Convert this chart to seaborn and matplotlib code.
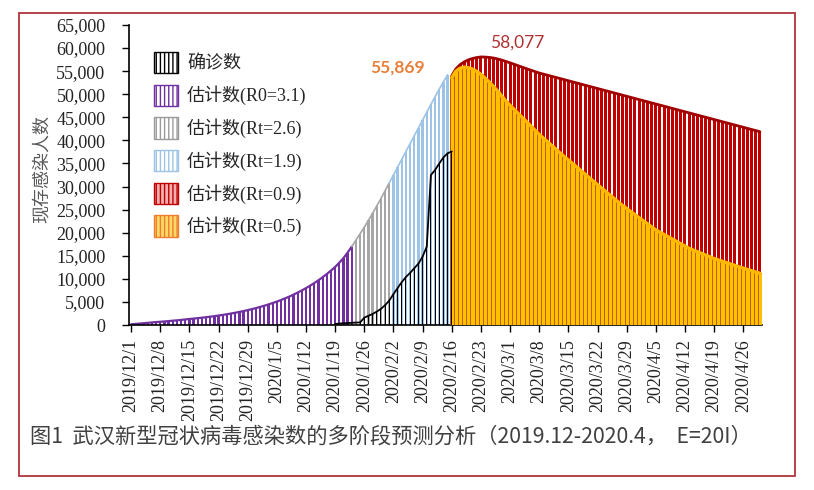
import matplotlib
matplotlib.use("Agg")
import matplotlib.pyplot as plt
import numpy as np
import pandas as pd
import seaborn as sns
from matplotlib.patches import Patch, Rectangle

# one bar per day, 2019/12/1 .. 2020/4/30
dates = pd.date_range("2019-12-01", "2020-04-30", freq="D")
date_labels = ["{}/{}/{}".format(d.year, d.month, d.day) for d in dates]

# estimate with R0=3.1, 2019/12/1 .. 2020/1/23
est_r0 = [150, 230, 310, 390, 470, 550, 630, 700, 770, 850,
          930, 1010, 1100, 1200, 1300, 1390, 1480, 1580, 1690, 1800,
          1920, 2050, 2180, 2330, 2490, 2650, 2830, 3020, 3220, 3440,
          3670, 3920, 4180, 4460, 4760, 5070, 5410, 5780, 6160, 6580,
          7020, 7490, 7990, 8520, 9090, 9700, 10350, 11050, 11790, 12580,
          13500, 14500, 15700, 17000]
# estimate with Rt=2.6, 1/24 .. 2/1
est_rt26 = [18400, 19800, 21200, 22700, 24200, 25800, 27400, 29100, 30800]
# estimate with Rt=1.9, 2/2 .. 2/15
est_rt19 = [32500, 34200, 35900, 37600, 39300, 41000, 42700, 44400, 46100,
            47800, 49500, 51100, 52700, 54200]
# estimate with Rt=0.9, 2/16 .. 4/30
est_rt09 = [54000, 55500, 56400, 57000, 57450, 57750, 57950, 58077, 58050, 57980,
            57850, 57650, 57400, 57100, 56800, 56480, 56160, 55840, 55520, 55210,
            54900, 54600, 54360, 54120, 53880, 53640, 53400, 53160, 52920, 52680,
            52440, 52200, 51960, 51720, 51480, 51240, 51000, 50760, 50520, 50280,
            50040, 49800, 49560, 49320, 49080, 48840, 48600, 48360, 48120, 47880,
            47640, 47400, 47160, 46920, 46680, 46440, 46200, 45960, 45720, 45480,
            45240, 45000, 44760, 44520, 44280, 44040, 43800, 43560, 43320, 43080,
            42840, 42600, 42360, 42120, 41880]
# estimate with Rt=0.5, 2/16 .. 4/30
est_rt05 = [53600, 55000, 55650, 55869, 55750, 55450, 54950, 54300, 53500, 52650,
            51700, 50700, 49600, 48500, 47600, 46700, 45800, 44900, 44000, 43100,
            42200, 41300, 40500, 39700, 38900, 38100, 37300, 36500, 35750, 35000,
            34230, 33460, 32700, 31930, 31160, 30400, 29650, 28900, 28150, 27400,
            26650, 25900, 25230, 24570, 23900, 23240, 22580, 21920, 21260, 20600,
            20100, 19600, 19100, 18600, 18100, 17600, 17100, 16600, 16230, 15870,
            15500, 15130, 14770, 14400, 14100, 13800, 13500, 13200, 12900, 12600,
            12320, 12040, 11760, 11480, 11200]
# confirmed, 1/19 .. 2/16
confirmed = [250, 300, 380, 420, 480, 520, 560, 1600, 2000, 2400,
             2900, 3500, 4300, 5300, 6700, 8000, 9300, 10400, 11300, 12300,
             13300, 14800, 17000, 32500, 33600, 35000, 36300, 37200, 37600]

start = {"r0": 0, "rt26": 54, "rt19": 63, "rt09": 77, "rt05": 77, "conf": 49}

sns.set_theme(style="white")
plt.rcParams["font.family"] = ["Liberation Serif", "Noto Sans CJK SC"]
plt.rcParams["hatch.linewidth"] = 1.0

W, H = 814, 490
fig = plt.figure(figsize=(W / 100, H / 100), dpi=100)
ax = fig.add_axes([129 / W, 1 - 325 / H, (762 - 129) / W, 300 / H])

day = np.arange(len(dates))


def draw(values, s, color, width, line_color, lw, z, edge=None, edge_lw=0, prev=None):
    x = day[s:s + len(values)]
    ax.bar(x, values, width=width, color=color, edgecolor=edge if edge else "none",
           linewidth=edge_lw, zorder=z)
    # outline joins on to the previous segment
    lx, ly = list(x), list(values)
    if prev is not None:
        lx = [s - 1] + lx
        ly = [prev[-1]] + ly
    sns.lineplot(x=lx, y=ly, color=line_color, lw=lw, ax=ax, zorder=z + 0.5)


draw(est_r0, start["r0"], "#7030a0", 0.55, "#7030a0", 1.6, 2)
draw(est_rt26, start["rt26"], "#a6a6a6", 0.55, "#a6a6a6", 1.2, 2, prev=est_r0)
draw(est_rt19, start["rt19"], "#9dc3e6", 0.55, "#9dc3e6", 1.2, 2, prev=est_rt26)
draw(est_rt09, start["rt09"], "#c00000", 0.72, "#a00000", 2.0, 3)
draw(est_rt05, start["rt05"], "#ffc000", 1.0, "#ffb800", 2.4, 5, edge="#b8560f", edge_lw=0.6)
draw(confirmed, start["conf"], "#000000", 0.22, "#000000", 1.3, 7)

# peak labels
i05 = int(np.argmax(est_rt05))
ax.annotate("{:,}".format(est_rt05[i05]), xy=(start["rt05"] + i05, est_rt05[i05]),
            xytext=(-48, 0), textcoords="offset points", ha="center", va="center",
            fontsize=12.5, fontweight="bold", color="#e97f3a", family="Lato")
i09 = int(np.argmax(est_rt09))
ax.annotate("{:,}".format(est_rt09[i09]), xy=(start["rt09"] + i09, est_rt09[i09]),
            xytext=(26, 10), textcoords="offset points", ha="center", va="center",
            fontsize=12.5, color="#b03030", family="Lato")

ax.set_xlim(-0.5, len(dates) - 0.5)
ax.set_ylim(0, 65000)
ticks = day[::7]
ax.set_xticks(ticks)
ax.set_xticklabels([date_labels[i] for i in ticks], rotation=90, fontsize=13,
                   family="Liberation Serif", color="#222222")
yt = np.arange(0, 65001, 5000)
ax.set_yticks(yt)
ax.set_yticklabels(["{:,}".format(v) for v in yt], fontsize=13,
                   family="Liberation Serif", color="#222222")
ax.tick_params(axis="y", direction="out", length=5, width=1, pad=12, left=True, color="black")
ax.tick_params(axis="x", direction="out", length=5, width=1, pad=5, bottom=True, color="black")
ax.set_ylabel("现存感染人数", family="Noto Sans CJK SC", fontsize=13, color="#595959")
ax.yaxis.set_label_coords(-0.124, 0.52)
sns.despine(ax=ax)
for sp in ("left", "bottom"):
    ax.spines[sp].set_color("black")
    ax.spines[sp].set_linewidth(1.2)

handles = [
    Patch(facecolor="white", edgecolor="black", hatch="||||", label="确诊数"),
    Patch(facecolor="white", edgecolor="#7030a0", hatch="||||", label="估计数(R0=3.1)"),
    Patch(facecolor="white", edgecolor="#9a9a9a", hatch="||||", label="估计数(Rt=2.6)"),
    Patch(facecolor="white", edgecolor="#9dc3e6", hatch="||||", label="估计数(Rt=1.9)"),
    Patch(facecolor="#f4b0b0", edgecolor="#c00000", hatch="||||", label="估计数(Rt=0.9)"),
    Patch(facecolor="#ffd966", edgecolor="#ed7d31", hatch="||||", label="估计数(Rt=0.5)"),
]
fig.legend(handles=handles, loc="upper left", bbox_to_anchor=(154 / W, 1 - 52 / H),
           frameon=False, borderpad=0, borderaxespad=0, handlelength=1.33,
           handleheight=1.44, labelspacing=0.63, handletextpad=0.5,
           prop={"family": ["Liberation Serif", "Noto Sans CJK SC"], "size": 13})

fig.text(30 / W, 1 - 437 / H, "图1  武汉新型冠状病毒感染数的多阶段预测分析（2019.12-2020.4，  E=20I）",
         ha="left", va="center", fontsize=15.3, color="#404040", family="Noto Sans CJK SC")

fig.add_artist(Rectangle((19 / W, 1 - 476 / H), (795 - 19) / W, (476 - 13) / H,
                         transform=fig.transFigure, fill=False, edgecolor="#b0343c", lw=1.3))

fig.savefig("out.png", dpi=100)
